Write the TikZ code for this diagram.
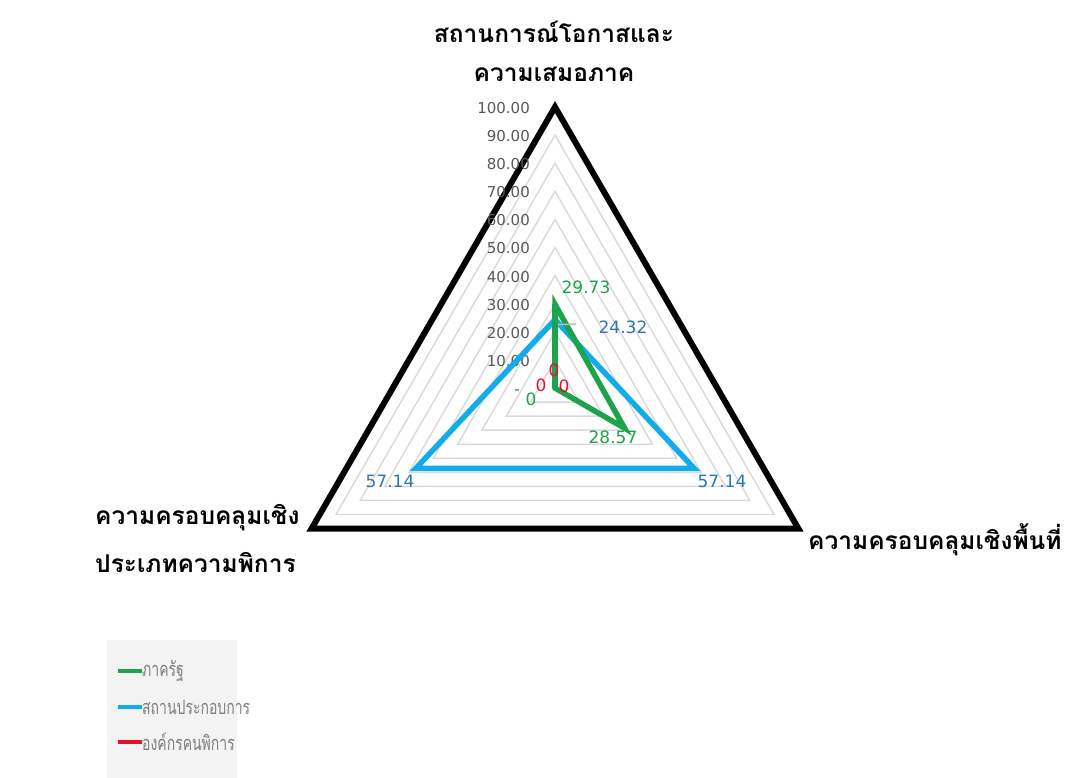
\documentclass[tikz,border=0pt]{standalone}
\usepackage{fontspec}
\setmainfont{DejaVu Sans}
\newfontfamily\thaifont[Script=Thai]{Loma}
\newfontfamily\thainarrow[Script=Thai, FakeStretch=0.7]{Loma}
\usetikzlibrary{calc}
\definecolor{gridgray}{HTML}{D9D9D9}
\definecolor{ticktext}{HTML}{595959}
\definecolor{govgreen}{HTML}{1EA24B}
\definecolor{bizblue}{HTML}{12ACEB}
\definecolor{lblblue}{HTML}{2E75B6}
\definecolor{orgred}{HTML}{E3122C}
\definecolor{legendbg}{HTML}{F3F3F3}
\definecolor{legendtext}{HTML}{7F7F7F}
\tikzset{
  gridring/.style={draw=gridgray, line width=1.4pt, line join=miter},
  outerring/.style={draw=black, line width=6pt, line join=miter},
  series/.style={line width=5.5pt, line join=miter},
  ticklbl/.style={anchor=east, inner sep=0pt, text=ticktext, font=\fontsize{15}{17}\selectfont},
  vallbl/.style={inner sep=0pt, font=\fontsize{17}{19}\selectfont},
  axislbl/.style={inner sep=0pt, font=\thaifont\bfseries\fontsize{24.5}{28}\selectfont},
  legendlbl/.style={anchor=west, inner sep=0pt, text=legendtext, font=\thainarrow\fontsize{20}{22}\selectfont},
}
\begin{document}
\begin{tikzpicture}[x=1pt, y=-1pt]
\useasboundingbox (0,0) rectangle (1071,778);
\fill[white] (0,0) rectangle (1071,778);

% radar chart, centre of the three axes
\begin{scope}[shift={(555,388)}]
  % grid rings every 10 units (2.81 per unit)
  \foreach \v in {10,20,...,90}
    \draw[gridring] (-90:{\v*2.81}) -- (30:{\v*2.81}) -- (150:{\v*2.81}) -- cycle;
  \draw[outerring] (-90:281) -- (30:281) -- (150:281) -- cycle;

  % axis scale labels
  \foreach \v/\t in {10/10.00,20/20.00,30/30.00,40/40.00,50/50.00,60/60.00,70/70.00,80/80.00,90/90.00,100/100.00}
    \node[ticklbl] (tick\v) at (-25,{-\v*2.81+1}) {\t};
  \node[ticklbl] (tick0) at (-35,4) {-};

  % series points
  \coordinate (gA) at (-90:{29.73*2.81});
  \coordinate (gB) at (30:{28.57*2.81});
  \coordinate (gC) at (150:0);
  \coordinate (bA) at (-90:{24.32*2.81});
  \coordinate (bB) at (30:{57.14*2.81});
  \coordinate (bC) at (150:{57.14*2.81});
  \coordinate (rA) at (0,0);

  \draw[series, bizblue] (bA) -- (bB) -- (bC) -- cycle;
  \draw[series, govgreen] (gA) -- (gB) -- (gC) -- cycle;
  \draw[series, orgred, line width=2pt] (rA) -- ++(0,0.01);
  \draw[series, govgreen] (gC) -- (gA);
\end{scope}

% data labels
\node[vallbl, text=govgreen] (lgA) at (586,287) {29.73};
\node[vallbl, text=lblblue] (lbA) at (623,327) {24.32};
\coordinate (lead) at (576,324);
\draw[gridgray!70!gray, line width=1.5pt] (bA) ++(3,5) -- (lead);
\node[vallbl, text=govgreen] (lgB) at (613,437) {28.57};
\node[vallbl, text=lblblue] (lbC) at (390,481) {57.14};
\node[vallbl, text=lblblue] (lbB) at (722,481) {57.14};
\node[vallbl, text=orgred] (lrA) at (554,370) {0};
\node[vallbl, text=orgred] (lrC) at (541,385) {0};
\node[vallbl, text=orgred] (lrB) at (564,386) {0};
\node[vallbl, text=govgreen] (lgC) at (531,399) {0};

% axis titles
\node[axislbl] (axTop1) at (554,32) {สถานการณ์โอกาสและ};
\node[axislbl] (axTop2) at (554,74) {ความเสมอภาค};
\node[axislbl, anchor=west] (axLeft1) at (95,518) {ความครอบคลุมเชิง};
\node[axislbl, anchor=west] (axLeft2) at (95,563) {ประเภทความพิการ};
\node[axislbl, anchor=west] (axRight) at (808,540) {ความครอบคลุมเชิงพื้นที่};

% legend
\fill[legendbg] (107,640) rectangle (237,778);
\foreach \y/\c/\n/\t in {671/govgreen/lgGov/ภาครัฐ, 707/bizblue/lgBiz/สถานประกอบการ, 742/orgred/lgOrg/องค์กรคนพิการ}{
  \coordinate (\n s) at (118,\y);
  \node[legendlbl] (\n) at (142,\y) {\t};
  \draw[\c, line width=3.5pt] (\n s) -- (\n.west);
}
\end{tikzpicture}
\end{document}
